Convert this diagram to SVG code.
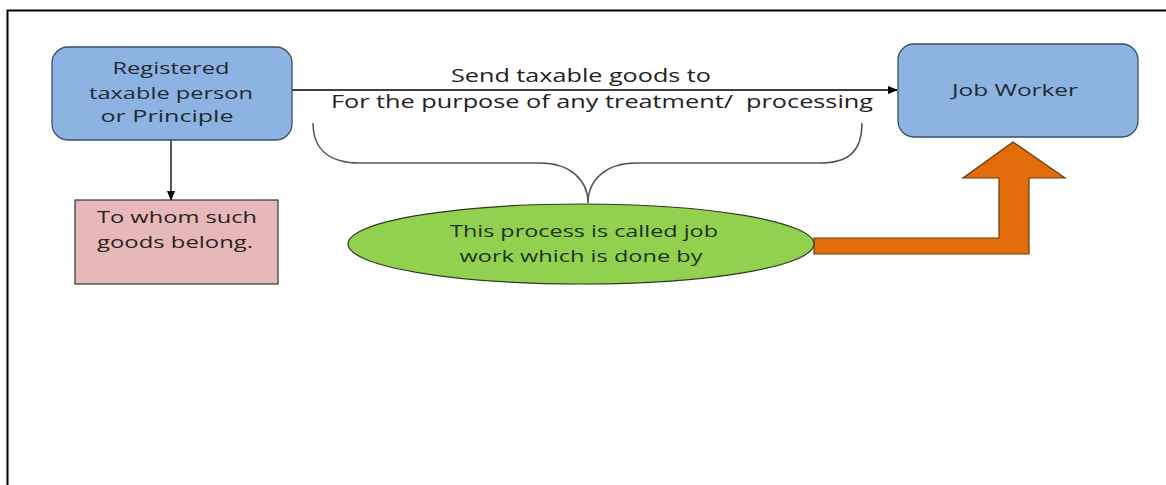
<svg xmlns="http://www.w3.org/2000/svg" width="1166" height="485" viewBox="0 0 1166 485">
<defs>
<style>
.t{font-family:"Open Sans","Liberation Sans",sans-serif;font-size:17px;fill:#1f2a33;text-anchor:middle}
.b{fill:#8db3e2;stroke:#3b4f63;stroke-width:1.3}
.c{fill:none;stroke:#000;stroke-width:1.3}
</style>
<marker id="ah" markerWidth="10" markerHeight="8" refX="9" refY="4" orient="auto" markerUnits="userSpaceOnUse">
<path d="M0,0 L10,4 L0,8 Z" fill="#000"/>
</marker>
</defs>
<rect width="1166" height="485" fill="#fff"/>
<path d="M7.5,485 V10.5 H1166" fill="none" stroke="#000" stroke-width="2"/>
<g id="connectors">
<line class="c" x1="292" y1="90" x2="897" y2="90" marker-end="url(#ah)"/>
<line class="c" x1="171" y1="140" x2="171" y2="200" marker-end="url(#ah)"/>
<path d="M313,123 C313,150 330,163 360,163 H540 C570,163 588,180 588,203 C588,180 606,163 636,163 H820 C850,163 862,150 862,123" fill="none" stroke="#555" stroke-width="1.5"/>
<path d="M814,238 H999 V178 H963 L1013,142 L1065,178 H1029 V254 H814 Z" fill="#e36c0a" stroke="#6b3a10" stroke-width="1.2"/>
</g>
<g id="registered">
<rect class="b" x="52" y="47" width="240" height="93" rx="16"/>
<text class="t" x="171" y="74" textLength="117" lengthAdjust="spacingAndGlyphs">Registered</text>
<text class="t" x="171" y="99" textLength="164" lengthAdjust="spacingAndGlyphs">taxable person</text>
<text class="t" x="167" y="122" textLength="133" lengthAdjust="spacingAndGlyphs">or Principle</text>
</g>
<g id="owner">
<rect x="75" y="200" width="203" height="84" fill="#e6b9b8" stroke="#333" stroke-width="1.2"/>
<text class="t" x="177" y="223" textLength="160" lengthAdjust="spacingAndGlyphs" style="fill:#2b2222">To whom such</text>
<text class="t" x="175" y="248" textLength="156" lengthAdjust="spacingAndGlyphs" style="fill:#2b2222">goods belong.</text>
</g>
<g id="jobworker">
<rect class="b" x="898" y="44" width="240" height="93" rx="16"/>
<text class="t" x="1015" y="96" textLength="126" lengthAdjust="spacingAndGlyphs">Job Worker</text>
</g>
<g id="labels">
<text class="t" x="581" y="82" textLength="260" lengthAdjust="spacingAndGlyphs" style="font-size:18px;fill:#222">Send taxable goods to</text>
<text class="t" x="602" y="108" textLength="542" lengthAdjust="spacingAndGlyphs" style="font-size:18px;fill:#222">For the purpose of any treatment/&#160; processing</text>
</g>
<g id="process">
<ellipse cx="581" cy="244" rx="233" ry="40" fill="#92d050" stroke="#2d3b1c" stroke-width="1.2"/>
<text class="t" x="584" y="237" textLength="268" lengthAdjust="spacingAndGlyphs" style="fill:#1b3318">This process is called job</text>
<text class="t" x="581" y="262" textLength="243" lengthAdjust="spacingAndGlyphs" style="fill:#1b3318">work which is done by</text>
</g>
</svg>
